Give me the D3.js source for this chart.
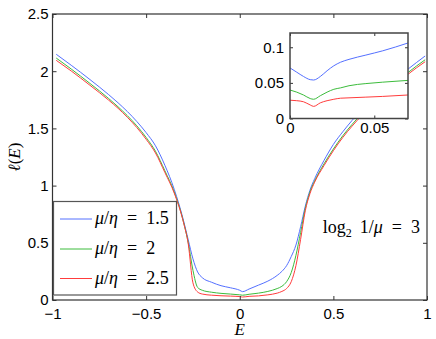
<!DOCTYPE html>
<html lang="en">
<head>
<meta charset="UTF-8">
<title>l(E) curves</title>
<script src="https://d3js.org/d3.v7.min.js"></script>
<style>
    body { margin: 0; padding: 0; background: #fff; }
    svg { display: block; }
    .tick text { font-family: "Liberation Sans", Arial, Helvetica, sans-serif; font-size: 15px; fill: #000; }
    .tick line { stroke: #333; }
</style>
</head>
<body>
<svg id="chart" width="436" height="339"></svg>
<script>
    // main curves, sampled on energyGrid
    var energyGrid = [-0.98, -0.9, -0.8, -0.7, -0.65, -0.6, -0.55, -0.5, -0.45, -0.4,
        -0.35, -0.3, -0.275, -0.25, -0.225, -0.2, -0.15, -0.1, -0.05, 0,
        0.015, 0.05, 0.1, 0.15, 0.2, 0.225, 0.25, 0.275, 0.3, 0.325,
        0.35, 0.375, 0.4, 0.45, 0.5, 0.55, 0.6, 0.65, 0.7, 0.8, 0.9, 0.99];
    var ellMu15 = [2.148, 2.052, 1.927, 1.795, 1.724, 1.647, 1.561, 1.463, 1.348, 1.178,
        0.968, 0.693, 0.525, 0.36, 0.245, 0.195, 0.155, 0.125, 0.107, 0.085,
        0.073, 0.096, 0.13, 0.165, 0.215, 0.25, 0.3, 0.38, 0.48, 0.64,
        0.82, 0.96, 1.06, 1.22, 1.36, 1.47, 1.57, 1.66, 1.74, 1.885, 2.02, 2.133];
    var ellMu2 = [2.115, 2.019, 1.893, 1.761, 1.689, 1.611, 1.523, 1.421, 1.30, 1.13,
        0.945, 0.68, 0.50, 0.26, 0.11, 0.085, 0.068, 0.058, 0.052, 0.045,
        0.042, 0.05, 0.06, 0.075, 0.1, 0.12, 0.16, 0.24, 0.39, 0.59,
        0.80, 0.945, 1.04, 1.19, 1.32, 1.435, 1.535, 1.625, 1.705, 1.851, 1.99, 2.10];
    var ellMu25 = [2.095, 2.002, 1.877, 1.747, 1.676, 1.597, 1.508, 1.405, 1.285, 1.115,
        0.935, 0.675, 0.49, 0.15, 0.07, 0.052, 0.042, 0.037, 0.034, 0.03,
        0.026, 0.032, 0.036, 0.045, 0.06, 0.075, 0.1, 0.16, 0.30, 0.53,
        0.78, 0.93, 1.03, 1.175, 1.305, 1.42, 1.52, 1.61, 1.69, 1.835, 1.975, 2.083];

    // inset (zoom near E = 0)
    var insetGrid = [0, 0.004, 0.008, 0.012, 0.014, 0.018, 0.022, 0.026, 0.03, 0.035, 0.045, 0.055, 0.07];
    var insetMu15 = [0.071, 0.065, 0.059, 0.0545, 0.054, 0.059, 0.067, 0.074, 0.079, 0.083, 0.089, 0.095, 0.106];
    var insetMu2 = [0.040, 0.037, 0.033, 0.028, 0.027, 0.032, 0.037, 0.041, 0.043, 0.046, 0.049, 0.051, 0.0535];
    var insetMu25 = [0.0257, 0.025, 0.0235, 0.019, 0.017, 0.022, 0.025, 0.027, 0.0285, 0.029, 0.030, 0.031, 0.033];

    var seriesLabels = ["1.5", "2", "2.5"];
    var seriesColors = ["#5470ff", "#3cbc3c", "#ff3c3c"];
    var xTicks = [-1, -0.5, 0, 0.5, 1];
    var yTicks = [0, 0.5, 1, 1.5, 2, 2.5];
    var insetXTicks = [0, 0.05];
    var insetYTicks = [0, 0.05, 0.1];

    var TEX_FONT = "'Liberation Serif', 'Times New Roman', 'DejaVu Serif', serif";

    var svg = d3.select("#chart");
    svg.append("rect").attr("width", 436).attr("height", 339).attr("fill", "#fff");

    var pLeft = 52.5, pRight = 427, pTop = 14, pBottom = 300;
    var x = d3.scaleLinear().domain([-1, 1]).range([pLeft, pRight]);
    var y = d3.scaleLinear().domain([0, 2.5]).range([pBottom, pTop]);

    function fmt(d) { return d3.format("")(d).replace("-", "\u2212"); }

    svg.append("defs").append("clipPath").attr("id", "plotClip")
        .append("rect").attr("x", pLeft).attr("y", pTop).attr("width", pRight - pLeft).attr("height", pBottom - pTop);

    var mainSeries = [ellMu15, ellMu2, ellMu25];
    var line = d3.line()
        .x(function (d, i) { return x(energyGrid[i]); })
        .y(function (d) { return y(d); })
        .curve(d3.curveMonotoneX);

    svg.append("g").attr("clip-path", "url(#plotClip)")
        .selectAll("path").data(mainSeries).enter().append("path")
        .attr("d", line)
        .attr("fill", "none")
        .attr("stroke", function (d, i) { return seriesColors[i]; })
        .attr("stroke-width", 1);

    // axes, ticks inside, box
    function styleAxis(g) {
        g.select(".domain").remove();
        g.selectAll(".tick line").attr("stroke", "#333");
    }
    svg.append("g").attr("transform", "translate(0," + pBottom + ")")
        .call(d3.axisBottom(x).tickValues(xTicks).tickSize(-4).tickPadding(8).tickFormat(fmt))
        .call(styleAxis);
    svg.append("g").attr("transform", "translate(0," + pTop + ")")
        .call(d3.axisTop(x).tickValues(xTicks).tickSize(-4).tickFormat(""))
        .call(styleAxis);
    svg.append("g").attr("transform", "translate(" + pLeft + ",0)")
        .call(d3.axisLeft(y).tickValues(yTicks).tickSize(-4).tickPadding(4).tickFormat(fmt))
        .call(styleAxis);
    svg.append("g").attr("transform", "translate(" + pRight + ",0)")
        .call(d3.axisRight(y).tickValues(yTicks).tickSize(-4).tickFormat(""))
        .call(styleAxis);
    svg.append("rect").attr("x", pLeft).attr("y", pTop).attr("width", pRight - pLeft).attr("height", pBottom - pTop)
        .attr("fill", "none").attr("stroke", "#333").attr("stroke-width", 1.2);

    // axis labels
    svg.append("text").attr("x", x(0)).attr("y", 335)
        .attr("font-family", TEX_FONT).attr("font-size", 17).attr("font-style", "italic")
        .attr("text-anchor", "middle").text("E");
    var yl = svg.append("text")
        .attr("transform", "translate(20," + ((pTop + pBottom) / 2) + ") rotate(-90)")
        .attr("font-family", TEX_FONT).attr("font-size", 17)
        .attr("text-anchor", "middle");
    yl.append("tspan").attr("font-style", "italic").text("\u2113");
    yl.append("tspan").text("(");
    yl.append("tspan").attr("font-style", "italic").text("E");
    yl.append("tspan").text(")");

    // annotation
    var ann = svg.append("text").attr("x", 420).attr("y", 233)
        .attr("font-family", TEX_FONT).attr("font-size", 18)
        .attr("text-anchor", "end");
    ann.append("tspan").text("log");
    ann.append("tspan").attr("dy", 4).attr("font-size", 12).text("2");
    ann.append("tspan").attr("dy", -4).text("\u2009 1/");
    ann.append("tspan").attr("font-style", "italic").text("\u03bc");
    ann.append("tspan").text("\u2002=\u20023");

    // legend
    var legend = svg.append("g");
    legend.append("rect").attr("x", 53.5).attr("y", 201.5).attr("width", 123).attr("height", 93.5)
        .attr("fill", "#fff").attr("stroke", "#555").attr("stroke-width", 1.2);
    var rowY = [219, 249, 278.5];
    seriesLabels.forEach(function (lab, i) {
        legend.append("line").attr("x1", 60).attr("x2", 92).attr("y1", rowY[i]).attr("y2", rowY[i])
            .attr("stroke", seriesColors[i]).attr("stroke-width", 1);
        var t = legend.append("text").attr("x", 95).attr("y", rowY[i] + 5)
            .attr("font-family", TEX_FONT).attr("font-size", 18);
        t.append("tspan").attr("font-style", "italic").text("\u03bc");
        t.append("tspan").text("/");
        t.append("tspan").attr("font-style", "italic").text("\u03b7");
        t.append("tspan").text("\u2002=\u2002" + lab);
    });

    // inset
    var ix0 = 290, ix1 = 408, iy0 = 33, iy1 = 118.5;
    var xi = d3.scaleLinear().domain([0, 0.07]).range([ix0, ix1]);
    var yi = d3.scaleLinear().domain([0, 0.12]).range([iy1, iy0]);
    var inset = svg.append("g");
    inset.append("rect").attr("x", ix0).attr("y", iy0).attr("width", ix1 - ix0).attr("height", iy1 - iy0)
        .attr("fill", "#fff");
    var insetLine = d3.line()
        .x(function (d, i) { return xi(insetGrid[i]); })
        .y(function (d) { return yi(d); })
        .curve(d3.curveMonotoneX);
    inset.selectAll("path.s").data([insetMu15, insetMu2, insetMu25]).enter().append("path")
        .attr("class", "s")
        .attr("d", insetLine)
        .attr("fill", "none")
        .attr("stroke", function (d, i) { return seriesColors[i]; })
        .attr("stroke-width", 1);
    inset.append("g").attr("transform", "translate(0," + iy1 + ")")
        .call(d3.axisBottom(xi).tickValues(insetXTicks).tickSize(-3).tickPadding(4).tickFormat(d3.format("")))
        .call(styleAxis);
    inset.append("g").attr("transform", "translate(0," + iy0 + ")")
        .call(d3.axisTop(xi).tickValues(insetXTicks).tickSize(-3).tickFormat(""))
        .call(styleAxis);
    inset.append("g").attr("transform", "translate(" + ix0 + ",0)")
        .call(d3.axisLeft(yi).tickValues(insetYTicks).tickSize(-3).tickPadding(6).tickFormat(d3.format("")))
        .call(styleAxis);
    inset.append("g").attr("transform", "translate(" + ix1 + ",0)")
        .call(d3.axisRight(yi).tickValues(insetYTicks).tickSize(-3).tickFormat(""))
        .call(styleAxis);
    inset.append("rect").attr("x", ix0).attr("y", iy0).attr("width", ix1 - ix0).attr("height", iy1 - iy0)
        .attr("fill", "none").attr("stroke", "#444").attr("stroke-width", 1.5);
</script>
</body>
</html>
